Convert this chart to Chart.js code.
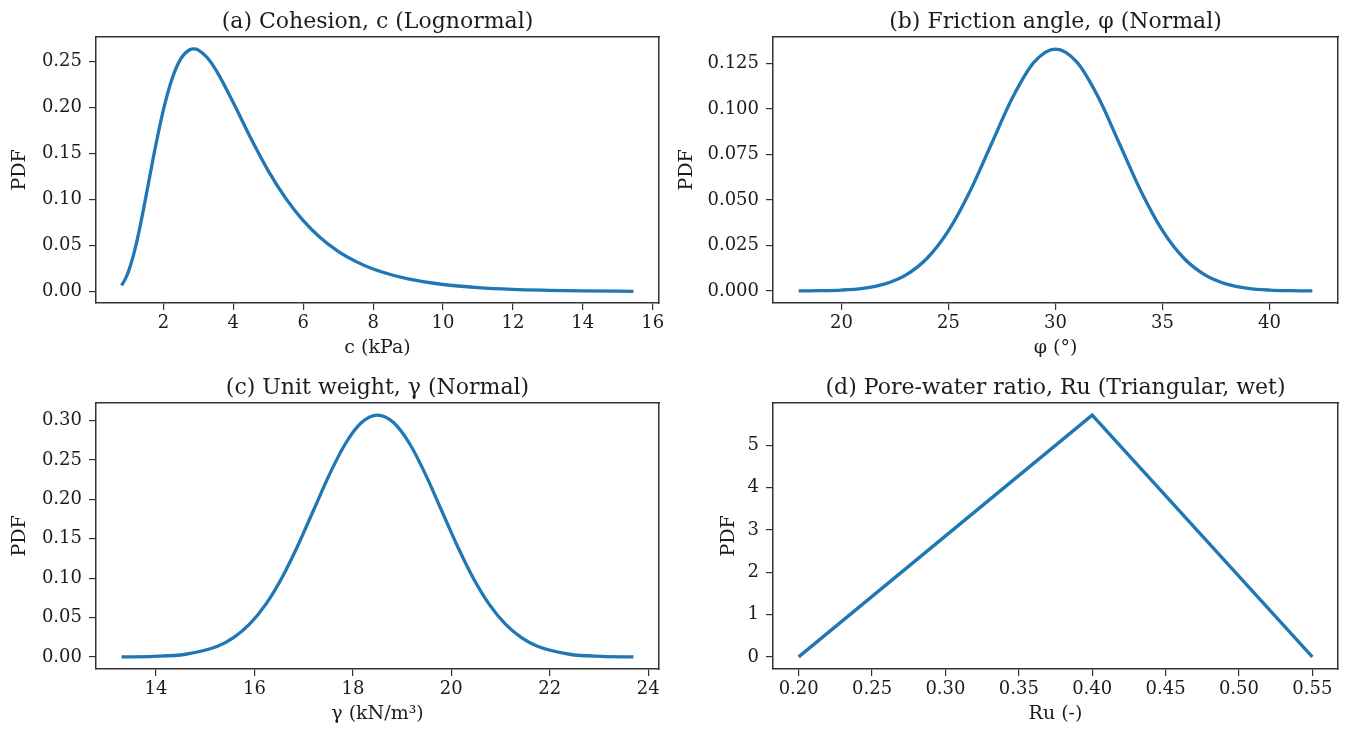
<!DOCTYPE html>
<html>
<head>
<meta charset="utf-8">
<title>PDFs of input parameters</title>
<script src="https://cdn.jsdelivr.net/npm/chart.js@4.4.1/dist/chart.umd.min.js"></script>
<style>
  body { margin: 0; background: #fff; }
  #figure { position: relative; width: 1349px; height: 739px; }
  #figure canvas { position: absolute; }
</style>
</head>
<body>
<div id="figure">
  <canvas id="cohesionChart" width="675" height="370" style="left:0px;top:0px"></canvas>
  <canvas id="frictionChart" width="674" height="370" style="left:675px;top:0px"></canvas>
  <canvas id="unitWeightChart" width="675" height="370" style="left:0px;top:366px"></canvas>
  <canvas id="ruChart" width="674" height="370" style="left:675px;top:366px"></canvas>
</div>
<script>
// (a) cohesion c, lognormal
const cohesionX = [0.8, 0.9, 1.0, 1.125, 1.25, 1.375, 1.5, 1.625, 1.75, 2.0, 2.25, 2.5, 2.75, 2.875, 3.0, 3.25, 3.5, 4.0, 4.5, 5.0, 5.5, 6.0, 6.5, 7.0, 7.5, 8.0, 9.0, 10.0, 11.0, 12.0, 13.0, 14.0, 15.45];
const cohesionPdf = [0.0069, 0.0132, 0.0222, 0.0374, 0.0567, 0.0792, 0.1036, 0.1287, 0.1535, 0.1979, 0.2318, 0.2533, 0.2630, 0.2639, 0.2626, 0.2545, 0.2410, 0.2053, 0.1668, 0.1314, 0.1015, 0.0773, 0.0585, 0.0440, 0.0330, 0.0247, 0.0139, 0.0079, 0.0045, 0.0026, 0.0016, 0.0009, 0.0005];
const cohesionTicks = [2, 4, 6, 8, 10, 12, 14, 16];
const cohesionPdfTicks = [0, 0.05, 0.10, 0.15, 0.20, 0.25];

// (b) friction angle, normal
const frictionX = [18, 19, 20, 21, 22, 23, 24, 25, 26, 27, 28, 29, 30, 31, 32, 33, 34, 35, 36, 37, 38, 39, 40, 41, 42];
const frictionPdf = [0.00004, 0.00016, 0.00051, 0.00148, 0.00380, 0.00874, 0.01800, 0.03316, 0.05467, 0.08066, 0.10648, 0.12579, 0.13298, 0.12579, 0.10648, 0.08066, 0.05467, 0.03316, 0.01800, 0.00874, 0.00380, 0.00148, 0.00051, 0.00016, 0.00004];
const frictionTicks = [20, 25, 30, 35, 40];
const frictionPdfTicks = [0, 0.025, 0.050, 0.075, 0.100, 0.125];

// (c) unit weight, normal
const unitWeightX = [13.3, 13.95, 14.6, 15.25, 15.575, 15.9, 16.225, 16.55, 16.875, 17.2, 17.525, 17.85, 18.175, 18.5, 18.825, 19.15, 19.475, 19.8, 20.125, 20.45, 20.775, 21.1, 21.425, 21.75, 22.4, 23.05, 23.7];
const unitWeightPdf = [0.0001, 0.00067, 0.00341, 0.01348, 0.02441, 0.04153, 0.06637, 0.09963, 0.14050, 0.18613, 0.23165, 0.27082, 0.29744, 0.30688, 0.29744, 0.27082, 0.23165, 0.18613, 0.14050, 0.09963, 0.06637, 0.04153, 0.02441, 0.01348, 0.00341, 0.00067, 0.0001];
const unitWeightTicks = [14, 16, 18, 20, 22, 24];
const unitWeightPdfTicks = [0, 0.05, 0.10, 0.15, 0.20, 0.25, 0.30];

// (d) pore-water ratio, triangular
const ruX = [0.20, 0.40, 0.55];
const ruPdf = [0, 5.714, 0];
const ruTicks = [0.20, 0.25, 0.30, 0.35, 0.40, 0.45, 0.50, 0.55];
const ruPdfTicks = [0, 1, 2, 3, 4, 5];

const lineColor = "#1f77b4";
const inkColor = "#1c1c1c";
const frameColor = "#333";
const serif = "DejaVu Serif";

Chart.defaults.font.family = serif;
Chart.defaults.color = inkColor;

function frameAxis(position) {
  let horizontal = position == "top";
  return {
    type: "linear",
    position: position,
    ticks: { display: false },
    grid: { drawOnChartArea: false, drawTicks: false },
    border: { display: true, color: frameColor, width: 1.5 },
    afterFit: function (scale) {
      if (horizontal) scale.height = 0;
      else scale.width = 0;
    },
  };
}

function makeChart(setup) {
  let { canvasId, xData, yData, xTicks, yTicks, xMin, xMax, yMin, yMax, xDec, yDec, title, xLabel, yLabelPad, yWidth, rightPad, smooth } = setup;

  let points = xData.map(function (x, i) {
    return { x: x, y: yData[i] };
  });

  const config = {
    type: "line",
    data: {
      datasets: [
        {
          data: points,
          borderColor: lineColor,
          borderWidth: 3.3,
          pointRadius: 0,
          fill: false,
          tension: 0,
          cubicInterpolationMode: smooth ? "monotone" : "default",
        },
      ],
    },
    options: {
      responsive: false,
      animation: false,
      layout: { padding: { left: 0, right: rightPad, top: 0, bottom: 0 } },
      plugins: {
        legend: { display: false },
        tooltip: { enabled: false },
        title: {
          display: true,
          text: title,
          fullSize: false,
          color: inkColor,
          font: { family: serif, size: 22, weight: "normal" },
          padding: { top: 8.8, bottom: 1.8 },
        },
      },
      scales: {
        x: {
          type: "linear",
          min: xMin,
          max: xMax,
          afterBuildTicks: function (scale) {
            scale.ticks = xTicks.map((v) => ({ value: v }));
          },
          afterFit: function (scale) {
            scale.height = 67;
          },
          ticks: {
            color: inkColor,
            font: { size: 18 },
            padding: 3,
            maxRotation: 0,
            autoSkip: false,
            callback: (v) => Number(v).toFixed(xDec),
          },
          grid: { drawOnChartArea: false, tickLength: 7, color: frameColor, lineWidth: 1.2 },
          border: { display: true, color: frameColor, width: 1.5 },
          title: {
            display: true,
            text: xLabel,
            color: inkColor,
            font: { size: 19 },
            padding: { top: 0, bottom: 10.6 },
          },
        },
        y: {
          type: "linear",
          min: yMin,
          max: yMax,
          afterBuildTicks: function (scale) {
            scale.ticks = yTicks.map((v) => ({ value: v }));
          },
          afterFit: function (scale) {
            scale.width = yWidth;
          },
          ticks: {
            color: inkColor,
            font: { size: 18 },
            padding: 7,
            autoSkip: false,
            callback: (v) => Number(v).toFixed(yDec),
          },
          grid: { drawOnChartArea: false, tickLength: 7, color: frameColor, lineWidth: 1.2 },
          border: { display: true, color: frameColor, width: 1.5 },
          title: {
            display: true,
            text: "PDF",
            color: inkColor,
            font: { size: 19 },
            padding: { top: yLabelPad, bottom: 0 },
          },
        },
        xTop: frameAxis("top"),
        yRight: frameAxis("right"),
      },
    },
  };

  return new Chart(document.getElementById(canvasId), config);
}

makeChart({
  canvasId: "cohesionChart",
  xData: cohesionX,
  yData: cohesionPdf,
  xTicks: cohesionTicks,
  yTicks: cohesionPdfTicks,
  xMin: 0.07, xMax: 16.18,
  yMin: -0.0122, yMax: 0.2768,
  xDec: 0, yDec: 2,
  title: "(a) Cohesion, c (Lognormal)",
  xLabel: "c (kPa)",
  yLabelPad: 8.6,
  yWidth: 96,
  rightPad: 16,
  smooth: true,
});

makeChart({
  canvasId: "frictionChart",
  xData: frictionX,
  yData: frictionPdf,
  xTicks: frictionTicks,
  yTicks: frictionPdfTicks,
  xMin: 16.8, xMax: 43.2,
  yMin: -0.0066, yMax: 0.1396,
  xDec: 0, yDec: 3,
  title: "(b) Friction angle, φ (Normal)",
  xLabel: "φ (°)",
  yLabelPad: 0.5,
  yWidth: 98,
  rightPad: 11,
  smooth: true,
});

makeChart({
  canvasId: "unitWeightChart",
  xData: unitWeightX,
  yData: unitWeightPdf,
  xTicks: unitWeightTicks,
  yTicks: unitWeightPdfTicks,
  xMin: 12.78, xMax: 24.22,
  yMin: -0.0153, yMax: 0.3222,
  xDec: 0, yDec: 2,
  title: "(c) Unit weight, γ (Normal)",
  xLabel: "γ (kN/m³)",
  yLabelPad: 8.6,
  yWidth: 96,
  rightPad: 16,
  smooth: true,
});

makeChart({
  canvasId: "ruChart",
  xData: ruX,
  yData: ruPdf,
  xTicks: ruTicks,
  yTicks: ruPdfTicks,
  xMin: 0.1825, xMax: 0.5675,
  yMin: -0.286, yMax: 6.0,
  xDec: 2, yDec: 0,
  title: "(d) Pore-water ratio, Ru (Triangular, wet)",
  xLabel: "Ru (-)",
  yLabelPad: 42.9,
  yWidth: 98,
  rightPad: 11,
  smooth: false,
});
</script>
</body>
</html>
